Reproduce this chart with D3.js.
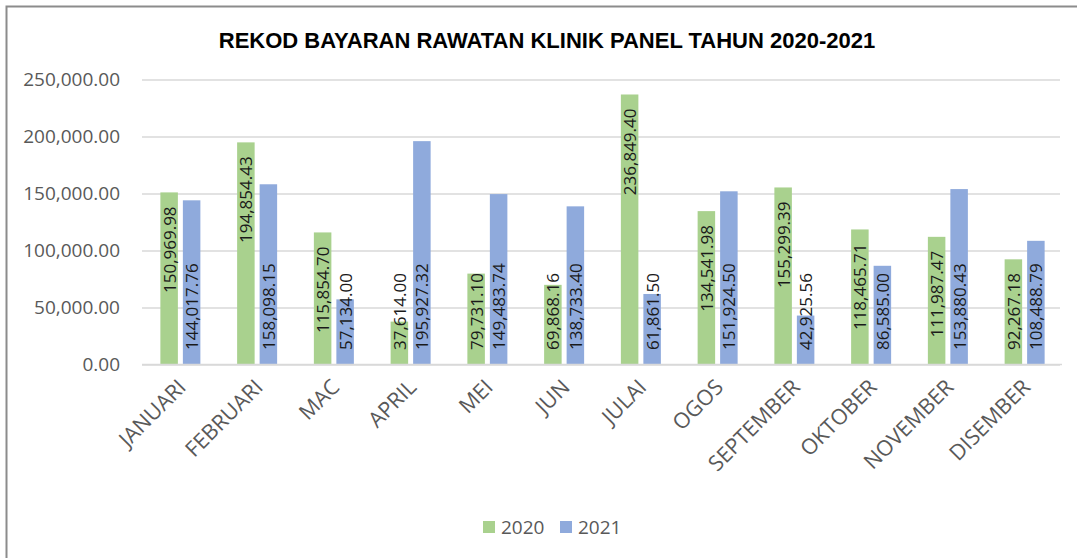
<!DOCTYPE html>
<html>
<head>
<meta charset="utf-8">
<script src="https://cdn.jsdelivr.net/npm/d3@7"></script>
<style>
  body { margin: 0; background: #fff; }
  svg { display: block; }
</style>
</head>
<body>
<div id="chart"></div>
<script>
// data
let months = ["JANUARI", "FEBRUARI", "MAC", "APRIL", "MEI", "JUN", "JULAI", "OGOS", "SEPTEMBER", "OKTOBER", "NOVEMBER", "DISEMBER"];
let series = ["2020", "2021"];
let values2020 = [150969.98, 194854.43, 115854.70, 37614.00, 79731.10, 69868.16, 236849.40, 134541.98, 155299.39, 118465.71, 111987.47, 92267.18];
let values2021 = [144017.76, 158098.15, 57134.00, 195927.32, 149483.74, 138733.40, 61861.50, 151924.50, 42925.56, 86585.00, 153880.43, 108488.79];
let yTicks = [0, 50000, 100000, 150000, 200000, 250000];
let colors = ["#a9d18e", "#8faadc"];
let title = "REKOD BAYARAN RAWATAN KLINIK PANEL TAHUN 2020-2021";

var W = 1077, H = 558;
var margin = {top: 79.5, left: 142, right: 14, bottom: 193.5};

var svg = d3.select("#chart").append("svg")
    .attr("width", W)
    .attr("height", H);

svg.append("rect").attr("width", W).attr("height", H).attr("fill", "#fff");

// chart frame (only top and left edges visible)
svg.append("path")
    .attr("d", "M6.5," + H + "V6.5H" + W)
    .attr("fill", "none")
    .attr("stroke", "#8c8c8c")
    .attr("stroke-width", 2);

var x = d3.scaleBand()
    .domain(months)
    .range([margin.left, W - margin.right]);

var x1 = d3.scaleBand()
    .domain(series)
    .range([-20, 20])
    .paddingInner(0.222);

var y = d3.scaleLinear()
    .domain([0, 250000])
    .range([H - margin.bottom, margin.top]);

var fmt = d3.format(",.2f");

// title
svg.append("text")
    .attr("x", 547)
    .attr("y", 48)
    .attr("text-anchor", "middle")
    .attr("font-family", "Liberation Sans, Arial, sans-serif")
    .attr("font-weight", "bold")
    .attr("font-size", 22)
    .attr("fill", "#000")
    .text(title);

// gridlines + y tick labels
var yAxis = svg.append("g")
    .attr("transform", "translate(" + margin.left + ",0)")
    .call(d3.axisLeft(y).tickValues(yTicks).tickFormat(fmt)
        .tickSize(-(W - margin.left - margin.right - 3)).tickPadding(22));
yAxis.select(".domain").remove();
yAxis.selectAll(".tick line").attr("stroke", "#d9d9d9").attr("stroke-width", 1.5);
yAxis.selectAll(".tick text")
    .attr("font-family", "Open Sans, sans-serif")
    .attr("font-size", 19)
    .attr("fill", "#595959");

// bars
var rows = months.map(function(m, i) {
    return {month: m, vals: [values2020[i], values2021[i]]};
});

var groups = svg.selectAll("g.month")
    .data(rows)
    .enter().append("g")
    .attr("class", "month")
    .attr("transform", function(d) { return "translate(" + (x(d.month) + x.bandwidth() / 2) + ",0)"; });

groups.selectAll("rect")
    .data(function(d) { return d.vals.map(function(v, k) { return {s: series[k], v: v, k: k}; }); })
    .enter().append("rect")
    .attr("x", function(d) { return x1(d.s); })
    .attr("y", function(d) { return y(d.v); })
    .attr("width", x1.bandwidth())
    .attr("height", function(d) { return y(0) - y(d.v); })
    .attr("fill", function(d) { return colors[d.k]; });

// value labels, rotated; 2020 sits inside the top, 2021 sits on the base
var base = y(0) - 14.5;
groups.selectAll("text.val")
    .data(function(d) { return d.vals.map(function(v, k) { return {s: series[k], v: v, k: k}; }); })
    .enter().append("text")
    .attr("class", "val")
    .attr("font-family", "Open Sans, sans-serif")
    .attr("font-size", 17)
    .attr("fill", "#1a1a1a")
    .attr("dominant-baseline", "central")
    .text(function(d) { return fmt(d.v); })
    .each(function(d) {
        var t = d3.select(this);
        var len = this.getComputedTextLength();
        var cx = x1(d.s) + x1.bandwidth() / 2;
        var py = base, anchor = "start";
        if (d.k == 0 && y(d.v) + 14 + len <= base) {
            py = y(d.v) + 14;
            anchor = "end";
        }
        t.attr("text-anchor", anchor)
         .attr("transform", "translate(" + cx + "," + py + ") rotate(-90)");
    });

// x axis line and month labels
var xAxis = svg.append("g")
    .attr("transform", "translate(0," + y(0) + ")")
    .call(d3.axisBottom(x).tickSize(0).tickPadding(0));
xAxis.select(".domain")
    .attr("d", "M" + margin.left + ",0H" + (W - margin.right - 1))
    .attr("stroke", "#d9d9d9")
    .attr("stroke-width", 1.5);
xAxis.selectAll(".tick text")
    .attr("font-family", "Open Sans, sans-serif")
    .attr("font-size", 21.5)
    .attr("fill", "#595959")
    .attr("text-anchor", "end")
    .attr("dy", null)
    .attr("y", null)
    .attr("transform", "translate(7,24) rotate(-45)");

// legend
var legend = svg.append("g").attr("transform", "translate(483,521)");
series.forEach(function(s, i) {
    var g = legend.append("g").attr("transform", "translate(" + (i * 77) + ",0)");
    g.append("rect").attr("width", 12).attr("height", 12).attr("fill", colors[i]);
    g.append("text")
        .attr("x", 18)
        .attr("y", 6)
        .attr("dominant-baseline", "central")
        .attr("font-family", "Open Sans, sans-serif")
        .attr("font-size", 19)
        .attr("fill", "#595959")
        .text(s);
});
</script>
</body>
</html>
